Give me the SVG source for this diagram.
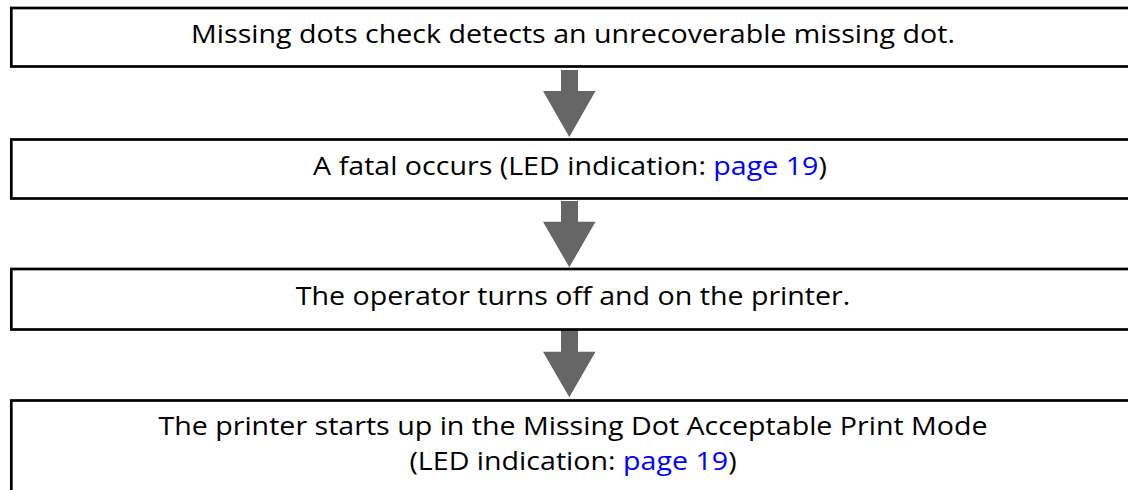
<svg xmlns="http://www.w3.org/2000/svg" width="1128" height="490" viewBox="0 0 1128 490">
<style>
.box{fill:#fff;stroke:#000;stroke-width:2.7}
.t{font-family:"Open Sans","Liberation Sans",sans-serif;font-size:26px;fill:#000;text-anchor:middle}
.lk{fill:#0000ff}
.arr{fill:#666666}
</style>
<rect width="1128" height="490" fill="#fff"/>
<g id="connectors">
<polygon class="arr" points="561,70 578,70 578,91 595.5,91 569.3,137 543,91 561,91"/>
<polygon class="arr" points="561,201 578,201 578,221.7 595.5,221.7 569.3,267.3 543,221.7 561,221.7"/>
<polygon class="arr" points="561,330 578,330 578,351.7 595.5,351.7 569.3,397.3 543,351.7 561,351.7"/>
</g>
<g id="node1">
<rect class="box" x="11.3" y="8" width="1130" height="58.5"/>
<text class="t" transform="translate(573,43.3) scale(1.1,1)">Missing dots check detects an unrecoverable missing dot.</text>
</g>
<g id="node2">
<rect class="box" x="11.3" y="139.5" width="1130" height="59"/>
<text class="t" transform="translate(570,175) scale(1.1,1)">A fatal occurs (LED indication: <tspan class="lk">page 19</tspan>)</text>
</g>
<g id="node3">
<rect class="box" x="11.3" y="269" width="1130" height="60.5"/>
<text class="t" transform="translate(573,305) scale(1.1,1)">The operator turns off and on the printer.</text>
</g>
<g id="node4">
<rect class="box" x="11.3" y="400.5" width="1130" height="120"/>
<text class="t" transform="translate(573,435) scale(1.1,1)">The printer starts up in the Missing Dot Acceptable Print Mode</text>
<text class="t" transform="translate(573,470) scale(1.1,1)">(LED indication: <tspan class="lk">page 19</tspan>)</text>
</g>
</svg>
